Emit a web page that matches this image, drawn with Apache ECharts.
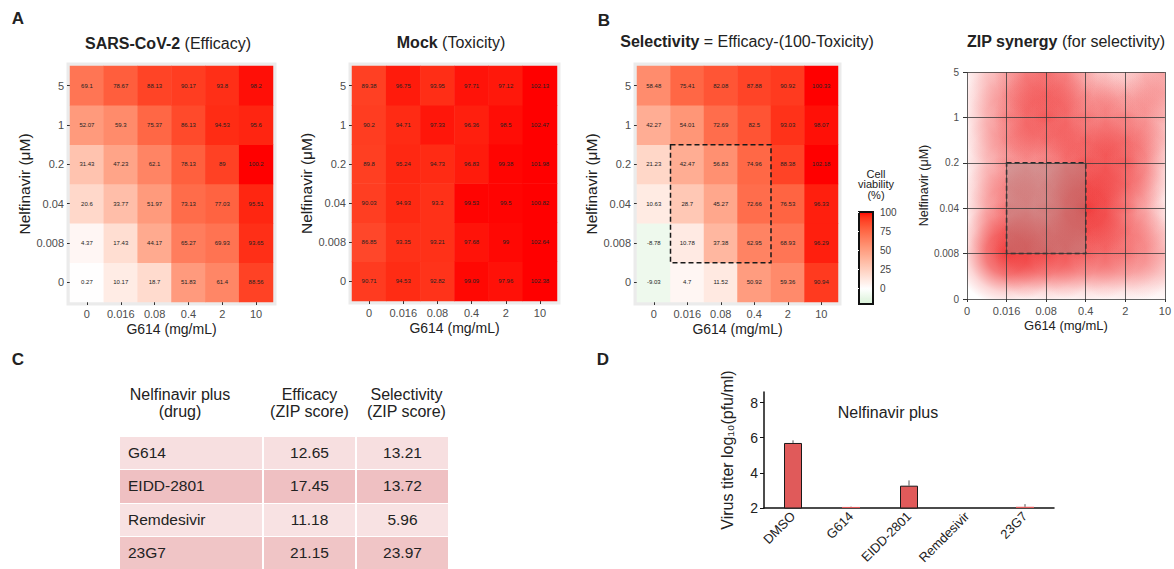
<!DOCTYPE html>
<html><head><meta charset="utf-8">
<script src="https://cdn.jsdelivr.net/npm/echarts@6/dist/echarts.min.js"></script>
<style>
html,body{margin:0;padding:0;background:#fff;}
#wrap{position:relative;width:1174px;height:569px;overflow:hidden;background:#fff;}
#chart{position:absolute;left:0;top:0;width:1174px;height:569px;}
#tableC{position:absolute;left:120px;top:381px;width:327px;font-family:'Liberation Sans',Arial,sans-serif;color:#222;}
#tableC .hdr{display:grid;grid-template-columns:142px 91px 91px;column-gap:2px;height:44px;font-size:16px;line-height:17px;}
#tableC .hdr div{display:flex;align-items:center;justify-content:center;text-align:center;}
#tableC .body{margin-top:12px;display:grid;grid-template-columns:142px 91px 91px;column-gap:2px;row-gap:1px;background:#fff;font-size:15.5px;}
#tableC .body div{height:32.3px;display:flex;align-items:center;}
#tableC .body .nm{padding-left:8px;}
#tableC .body .val{justify-content:center;}
</style></head><body>
<div id="wrap"><div id="chart"></div><div id="tableC"></div></div>
<script>
// ---------- data ----------
const xTicks = ['0','0.016','0.08','0.4','2','10'];      // G614 (mg/mL)
const yTicks = ['0','0.008','0.04','0.2','1','5'];       // Nelfinavir (uM), bottom -> top
// rows: bottom (0) -> top (5); columns: G614 0 -> 10
const efficacy = [
  [0.27, 10.17, 18.7, 51.83, 61.4, 88.56],
  [4.37, 17.43, 44.17, 65.27, 69.93, 93.65],
  [20.6, 33.77, 51.97, 73.13, 77.03, 95.51],
  [31.43, 47.23, 62.1, 78.13, 89, 100.2],
  [52.07, 59.3, 75.37, 86.13, 94.53, 95.6],
  [69.1, 78.67, 88.13, 90.17, 93.8, 98.2]
];
const toxicity = [
  [90.71, 94.53, 92.82, 99.09, 97.96, 102.38],
  [86.85, 93.35, 93.21, 97.68, 99, 102.64],
  [90.03, 94.93, 93.3, 99.53, 99.5, 100.82],
  [89.8, 95.24, 94.73, 96.83, 99.38, 101.98],
  [90.2, 94.71, 97.33, 96.36, 98.5, 102.47],
  [89.38, 96.75, 93.95, 97.71, 97.12, 102.13]
];
const selectivity = [
  [-9.03, 4.7, 11.52, 50.92, 59.36, 90.94],
  [-8.78, 10.78, 37.38, 62.95, 68.93, 96.29],
  [10.63, 28.7, 45.27, 72.66, 76.53, 96.33],
  [21.23, 42.47, 56.83, 74.96, 88.38, 102.18],
  [42.27, 54.01, 72.69, 82.5, 93.03, 98.07],
  [58.48, 75.41, 82.08, 87.88, 90.92, 100.33]
];
// estimated ZIP synergy surface (selectivity), bottom -> top
const zipSynergy = [
  [0, 0, 0, 0, 0, 0],
  [0, 26, 22, 18, 16, 8],
  [0, 16, 14, 26, 16, 0],
  [0, 12, 12, 20, 20, 3],
  [0, 14, 20, 14, 14, 8],
  [0, 10, 18, 8, 2, 12]
];
const boxX = ['0.016', '0.4'];
const boxY = ['0.008', '0.2'];
const legendTicks = [0, 25, 50, 75, 100];
const drugs = ['G614', 'EIDD-2801', 'Remdesivir', '23G7'];
const effZip = ['12.65', '17.45', '11.18', '21.15'];
const selZip = ['13.21', '13.72', '5.96', '23.97'];
const titerCats = ['DMSO', 'G614', 'EIDD-2801', 'Remdesivir', '23G7'];
const titerMean = [5.7, 2.06, 3.27, 2.0, 2.07];
const titerErr = [0.15, 0.02, 0.3, 0, 0.15];
const titerTicks = [2, 4, 6, 8];

// ---------- colour scale (Lab interpolation, white midpoint at 0) ----------
function lab2rgb(c){
  const L=c[0], a=c[1], b=c[2];
  const fy=(L+16)/116, fx=fy+a/500, fz=fy-b/200;
  const f=t=> (t*t*t>0.008856 ? t*t*t : (t-16/116)/7.787);
  const X=0.95047*f(fx), Y=f(fy), Z=1.08883*f(fz);
  const r=3.2406*X-1.5372*Y-0.4986*Z, g=-0.9689*X+1.8758*Y+0.0415*Z, bl=0.0557*X-0.2040*Y+1.0570*Z;
  const gm=v=>{v=Math.max(0,Math.min(1,v));return Math.round(255*(v<=0.0031308?12.92*v:1.055*Math.pow(v,1/2.4)-0.055));};
  return 'rgb('+gm(r)+','+gm(g)+','+gm(bl)+')';
}
const whiteLab=[100,0,0], redLab=[53.24,80.09,67.2], greenLab=[93,-13,10];
const mix=(p,q,t)=>[p[0]+(q[0]-p[0])*t,p[1]+(q[1]-p[1])*t,p[2]+(q[2]-p[2])*t];
const VMIN=-20, VMAX=100;
const stops=[];
for(let v=VMIN; v<=VMAX; v+=5){
  stops.push(lab2rgb(v<0 ? mix(whiteLab,greenLab,-v/20) : mix(whiteLab,redLab,v/100)));
}

function toCells(m){const out=[];m.forEach((row,yi)=>row.forEach((v,xi)=>out.push([xi,yi,v])));return out;}

const FONT='Liberation Sans';
const grids=[
  {left:70, top:66, width:203, height:236},
  {left:352, top:66, width:205, height:235},
  {left:637, top:66, width:201, height:236},
  {left:967, top:72, width:198, height:227},
  {left:859, top:212, width:14, height:92},
  {left:764, top:392, width:290, height:116}
];
const heatGridStyle={show:true, backgroundColor:'#ebebeb', borderColor:'#ebebeb', borderWidth:7};
const gridOpt=grids.map((g,i)=>Object.assign({containLabel:false}, g, i<3?heatGridStyle:{} ));
gridOpt[4]=Object.assign({}, grids[4], {show:true, borderColor:'#111', borderWidth:2, backgroundColor:'transparent', z:10});

const xAxes=[], yAxes=[];
for(let i=0;i<3;i++){
  xAxes.push({gridIndex:i, type:'category', data:xTicks, axisLine:{show:false},
    axisTick:{show:true, alignWithLabel:true, interval:0, length:3, lineStyle:{color:'#333'}},
    axisLabel:{interval:0, fontSize:11, color:'#4d4d4d', margin:6, fontFamily:FONT},
    name:'G614 (mg/mL)', nameLocation:'middle', nameGap:20,
    nameTextStyle:{fontSize:14, color:'#222', fontFamily:FONT}});
  yAxes.push({gridIndex:i, type:'category', data:yTicks, axisLine:{show:false},
    axisTick:{show:true, alignWithLabel:true, interval:0, length:3, lineStyle:{color:'#333'}},
    axisLabel:{interval:0, fontSize:11, color:'#4d4d4d', margin:6, fontFamily:FONT},
    name:'Nelfinavir (μM)', nameLocation:'middle', nameGap:29,
    nameTextStyle:{fontSize:15.5, color:'#222', fontFamily:FONT}});
}
// ZIP synergy
xAxes.push({gridIndex:3, type:'value', min:0, max:5, interval:1, z:10,
  axisLine:{show:false}, axisTick:{show:true, length:3, lineStyle:{color:'#333'}},
  axisLabel:{formatter:v=>xTicks[v], fontSize:11, color:'#4d4d4d', margin:6, fontFamily:FONT},
  splitLine:{show:true, lineStyle:{color:'#3a3a3a', width:0.8}},
  name:'G614 (mg/mL)', nameLocation:'middle', nameGap:20, nameTextStyle:{fontSize:13, color:'#222', fontFamily:FONT}});
yAxes.push({gridIndex:3, type:'value', min:0, max:5, interval:1, z:10,
  axisLine:{show:false}, axisTick:{show:true, length:4, lineStyle:{color:'#333'}},
  axisLabel:{formatter:v=>yTicks[v], fontSize:10, color:'#4d4d4d', margin:8, fontFamily:FONT},
  splitLine:{show:true, lineStyle:{color:'#3a3a3a', width:0.8}},
  name:'Nelfinavir (μM)', nameLocation:'middle', nameGap:35, nameTextStyle:{fontSize:12.5, color:'#222', fontFamily:FONT}});
// colorbar axis
xAxes.push({gridIndex:4, type:'value', show:false, min:0, max:1});
yAxes.push({gridIndex:4, type:'value', min:VMIN, max:VMAX, position:'right', z:12,
  axisLine:{show:false}, splitLine:{show:false},
  axisTick:{show:true, inside:true, length:3, customValues:legendTicks, lineStyle:{color:'#fff'}},
  axisLabel:{customValues:legendTicks, fontSize:10, color:'#444', margin:7, fontFamily:FONT}});
// titer bar chart
xAxes.push({gridIndex:5, type:'category', data:titerCats,
  axisLine:{show:true, onZero:false, lineStyle:{color:'#111', width:1.5}}, axisTick:{show:false},
  axisLabel:{rotate:45, fontSize:13, color:'#222', margin:6, fontFamily:FONT, interval:0}});
yAxes.push({gridIndex:5, type:'value', min:2, max:8.6, interval:2,
  axisLine:{show:true, lineStyle:{color:'#111', width:1.5}},
  axisTick:{show:true, length:4, customValues:titerTicks, lineStyle:{color:'#111'}},
  axisLabel:{customValues:titerTicks, fontSize:14, color:'#222', margin:6, fontFamily:FONT},
  splitLine:{show:false},
  name:'Virus titer log₁₀(pfu/ml)', nameLocation:'middle', nameGap:29,
  nameTextStyle:{fontSize:16, color:'#222', fontFamily:FONT}});

const cellLabel={show:true, fontSize:6, color:'#222', fontFamily:FONT, formatter:p=>String(p.value[2])};
const idx=(arr,v)=>arr.indexOf(v);
const boxData=[[idx(xTicks,boxX[0]), idx(yTicks,boxY[0]), idx(xTicks,boxX[1]), idx(yTicks,boxY[1])]];

const zipPoints=[];
zipSynergy.forEach((row,yi)=>row.forEach((v,xi)=>{ if(v>0) zipPoints.push([xi,yi,v]); }));

const series=[
  {type:'heatmap', xAxisIndex:0, yAxisIndex:0, data:toCells(efficacy), label:cellLabel, emphasis:{disabled:true}},
  {type:'heatmap', xAxisIndex:1, yAxisIndex:1, data:toCells(toxicity), label:cellLabel, emphasis:{disabled:true}},
  {type:'heatmap', xAxisIndex:2, yAxisIndex:2, data:toCells(selectivity), label:cellLabel, emphasis:{disabled:true}},
  {type:'custom', xAxisIndex:2, yAxisIndex:2, data:boxData, z:5,
    renderItem:(params,api)=>{
      const p0=api.coord([api.value(0),api.value(1)]), p1=api.coord([api.value(2),api.value(3)]);
      const s=api.size([1,1]);
      const x0=Math.min(p0[0],p1[0])-s[0]/2, x1=Math.max(p0[0],p1[0])+s[0]/2;
      const y0=Math.min(p0[1],p1[1])-s[1]/2, y1=Math.max(p0[1],p1[1])+s[1]/2;
      return {type:'rect', shape:{x:x0,y:y0,width:x1-x0,height:y1-y0},
        style:{fill:'none', stroke:'#1a1a1a', lineWidth:1.5, lineDash:[5,3]}};
    }},
  {type:'custom', xAxisIndex:3, yAxisIndex:3, data:zipPoints, clip:true, z:2,
    renderItem:(params,api)=>{
      const c=api.coord([api.value(0),api.value(1)]);
      const a=Math.min(1,api.value(2)/26)*0.8;
      return {type:'circle', shape:{cx:c[0],cy:c[1],r:52},
        style:{fill:{type:'radial',x:0.5,y:0.5,r:0.5,colorStops:[
          {offset:0,color:'rgba(238,24,24,'+a+')'},
          {offset:0.4,color:'rgba(238,24,24,'+(a*0.72)+')'},
          {offset:0.75,color:'rgba(238,24,24,'+(a*0.22)+')'},
          {offset:1,color:'rgba(238,24,24,0)'}]}}};
    }},
  {type:'custom', xAxisIndex:3, yAxisIndex:3, data:boxData, z:4,
    renderItem:(params,api)=>{
      const p0=api.coord([api.value(0),api.value(1)]), p1=api.coord([api.value(2),api.value(3)]);
      const x0=Math.min(p0[0],p1[0]), y0=Math.min(p0[1],p1[1]);
      return {type:'rect', shape:{x:x0,y:y0,width:Math.abs(p1[0]-p0[0]),height:Math.abs(p1[1]-p0[1])},
        style:{fill:'rgba(150,150,150,0.35)', stroke:'#2a2a2a', lineWidth:1.5, lineDash:[5,3]}};
    }},
  {type:'bar', xAxisIndex:5, yAxisIndex:5, barWidth:18,
    data:titerMean.map(v=>({value:v, itemStyle: (v-2<0.2)?{borderWidth:0}:{}})),
    itemStyle:{color:'#e05a5a', borderColor:'#1a1a1a', borderWidth:1}},
  {type:'custom', xAxisIndex:5, yAxisIndex:5, z:5,
    data:titerCats.map((c,i)=>[i, titerMean[i], titerErr[i]]),
    renderItem:(params,api)=>{
      const p0=api.coord([api.value(0),api.value(1)]);
      const p1=api.coord([api.value(0),api.value(1)+api.value(2)]);
      return {type:'line', shape:{x1:p0[0],y1:p0[1],x2:p1[0],y2:p1[1]}, style:{stroke:'#555', lineWidth:1}};
    }}
];

const txt=(x,y,text,size,extra)=>Object.assign({type:'text', x:x, y:y,
  style:Object.assign({text:text, fontSize:size, fontFamily:FONT, fill:'#222', align:'center', verticalAlign:'middle'}, extra||{})});
const boldRich={b:{fontWeight:'bold', fontSize:16, fontFamily:FONT, fill:'#222'}};
const graphics=[
  txt(18,18,'A',17,{fontWeight:'bold'}),
  txt(604,20,'B',17,{fontWeight:'bold'}),
  txt(18,359,'C',17,{fontWeight:'bold'}),
  txt(603,359,'D',17,{fontWeight:'bold'}),
  txt(168,43,'{b|SARS-CoV-2} (Efficacy)',16,{rich:boldRich}),
  txt(451,42,'{b|Mock} (Toxicity)',16,{rich:boldRich}),
  txt(747,41,'{b|Selectivity} = Efficacy-(100-Toxicity)',16,{rich:boldRich}),
  txt(1066,41,'{b|ZIP synergy} (for selectivity)',16,{rich:boldRich}),
  txt(876,184,'Cell\nviability\n(%)',11,{lineHeight:10.5}),
  txt(888,412,'Nelfinavir plus',16)
];

const chart=echarts.init(document.getElementById('chart'),null,{renderer:'svg'});
chart.setOption({
  animation:false,
  backgroundColor:'#fff',
  textStyle:{fontFamily:FONT},
  grid:gridOpt,
  xAxis:xAxes,
  yAxis:yAxes,
  visualMap:[{type:'continuous', min:VMIN, max:VMAX, dimension:2, seriesIndex:[0,1,2],
    inRange:{color:stops}, left:859, top:212, itemWidth:14, itemHeight:92, padding:0,
    calculable:false, orient:'vertical', hoverLink:false}],
  graphic:graphics,
  series:series
});

// ---------- table C ----------
const rowBg=['#f7dfe0','#efc0c2','#f8e2e3','#f0c5c6'];
let h='<div class="hdr"><div style="padding-right:22px">Nelfinavir plus<br>(drug)</div><div>Efficacy<br>(ZIP score)</div><div style="padding-left:8px">Selectivity<br>(ZIP score)</div></div><div class="body">';
drugs.forEach((d,i)=>{
  const bg='background:'+rowBg[i]+';';
  h+='<div class="nm" style="'+bg+'">'+d+'</div><div class="val" style="'+bg+'">'+effZip[i]+'</div><div class="val" style="'+bg+'">'+selZip[i]+'</div>';
});
h+='</div>';
document.getElementById('tableC').innerHTML=h;
</script>
</body></html>
